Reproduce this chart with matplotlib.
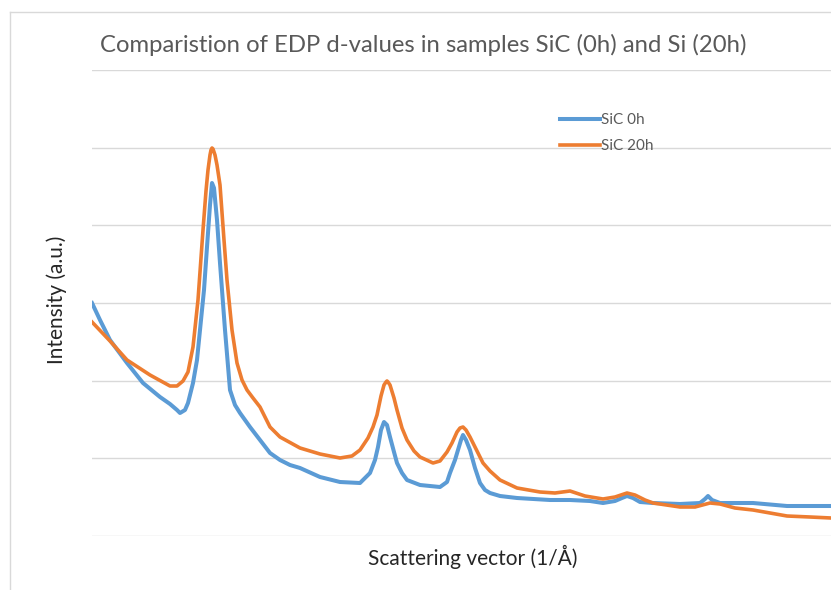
import numpy as np
import matplotlib
matplotlib.use("Agg")
import matplotlib.pyplot as plt
from matplotlib.lines import Line2D

plt.rcParams["font.family"] = ["Lato", "DejaVu Sans"]

# scattering vector (arb. 1/Å scale) and intensity (a.u.)
q_0h = [0.00, 0.08, 0.18, 0.35, 0.51, 0.68, 0.78, 0.85, 0.88, 0.93, 0.96, 1.01, 1.05, 1.08,
        1.12, 1.15, 1.18, 1.20, 1.22, 1.25, 1.28, 1.33, 1.38, 1.43, 1.48, 1.58, 1.68, 1.78,
        1.88, 1.98, 2.08, 2.28, 2.48, 2.68, 2.78, 2.83, 2.86, 2.89, 2.92, 2.95, 2.98, 3.02,
        3.05, 3.10, 3.15, 3.28, 3.48, 3.55, 3.58, 3.63, 3.66, 3.69, 3.71, 3.74, 3.78, 3.83,
        3.88, 3.93, 3.98, 4.08, 4.25, 4.58, 4.78, 4.98, 5.11, 5.23, 5.30, 5.35, 5.41, 5.48,
        5.61, 5.88, 6.08, 6.13, 6.16, 6.20, 6.28, 6.61, 6.95, 7.39]
i_0h = [233, 216, 196, 173, 153, 139, 132, 126, 123, 126, 133, 153, 176, 206,
        246, 289, 331, 353, 348, 316, 273, 206, 146, 131, 123, 109, 96, 83,
        76, 71, 68, 59, 54, 53, 63, 76, 89, 106, 114, 111, 99, 84,
        73, 63, 56, 51, 49, 54, 63, 76, 86, 96, 101, 96, 86, 68,
        53, 46, 43, 40, 38, 36, 36, 35, 33, 35, 38, 40, 38, 34,
        33, 32, 33, 37, 40, 36, 33, 33, 30, 30]

q_20h = [0.00, 0.18, 0.35, 0.58, 0.78, 0.85, 0.91, 0.96, 1.01, 1.06, 1.11, 1.14, 1.16, 1.18,
         1.19, 1.20, 1.21, 1.23, 1.25, 1.28, 1.32, 1.35, 1.40, 1.45, 1.50, 1.55, 1.61, 1.68,
         1.73, 1.78, 1.88, 2.08, 2.28, 2.48, 2.60, 2.68, 2.76, 2.81, 2.85, 2.89, 2.92, 2.94,
         2.95, 2.96, 2.98, 3.02, 3.05, 3.10, 3.15, 3.22, 3.28, 3.41, 3.48, 3.55, 3.60, 3.65,
         3.68, 3.71, 3.74, 3.78, 3.81, 3.86, 3.91, 3.98, 4.08, 4.25, 4.48, 4.63, 4.78, 4.93,
         5.11, 5.23, 5.35, 5.43, 5.53, 5.61, 5.88, 6.03, 6.18, 6.28, 6.43, 6.61, 6.78, 6.95,
         7.18, 7.39]
i_20h = [214, 195, 176, 161, 150, 150, 155, 164, 189, 236, 306, 345, 366, 381,
         386, 388, 387, 381, 371, 351, 296, 256, 206, 173, 156, 146, 138, 129,
         119, 109, 99, 88, 82, 78, 80, 86, 98, 109, 121, 140, 151, 154,
         155, 154, 151, 138, 126, 108, 96, 85, 79, 73, 75, 84, 93, 104,
         108, 109, 106, 99, 93, 83, 73, 65, 56, 48, 44, 43, 45, 40,
         37, 39, 43, 41, 36, 33, 29, 29, 33, 32, 28, 26, 23, 20,
         19, 18]

labels = ["SiC 0h", "SiC 20h"]
colors = ["#5B9BD5", "#ED7D31"]

W, H = 831, 590
fig = plt.figure(figsize=(W / 100, H / 100), dpi=100)
ax = fig.add_axes([92 / W, (H - 536) / H, 1 - 92 / W, (536 - 70) / H])

ax.plot(q_0h, i_0h, color=colors[0], lw=2.9, label=labels[0], solid_joinstyle="round")
ax.plot(q_20h, i_20h, color=colors[1], lw=2.6, label=labels[1], solid_joinstyle="round")

ax.set_xlim(0, 7.39)
ax.set_ylim(0, 466)
ax.set_yticks(np.linspace(0, 466, 7))
ax.set_xticks([])
ax.yaxis.grid(True, color="#D9D9D9", lw=1)
ax.set_axisbelow(True)
ax.tick_params(axis="y", length=0, labelleft=False)
for s in ax.spines.values():
    s.set_visible(False)

fig.text(100 / W, (H - 45) / H, "Comparistion of EDP d-values in samples SiC (0h) and Si (20h)",
         fontsize=17.2, color="#595959", va="center", ha="left")
fig.text(473 / W, (H - 557) / H, "Scattering vector (1/Å)", fontsize=15, color="#262626",
         ha="center", va="center")
fig.text(57 / W, (H - 300) / H, "Intensity (a.u.)", fontsize=15, color="#262626",
         ha="center", va="center", rotation=90)

ax.legend(loc="upper left", bbox_to_anchor=(560 / W, (H - 113) / H), bbox_transform=fig.transFigure,
          frameon=False, fontsize=11, handlelength=2.6, handletextpad=0.1, labelspacing=0.8,
          borderpad=0, borderaxespad=0, labelcolor="#595959")

# chart area border
fig.add_artist(Line2D([10 / W, 10 / W], [0, (H - 12) / H], color="#D9D9D9", lw=1))
fig.add_artist(Line2D([10 / W, 1], [(H - 12) / H, (H - 12) / H], color="#D9D9D9", lw=1))

fig.savefig("out.png", dpi=100)
